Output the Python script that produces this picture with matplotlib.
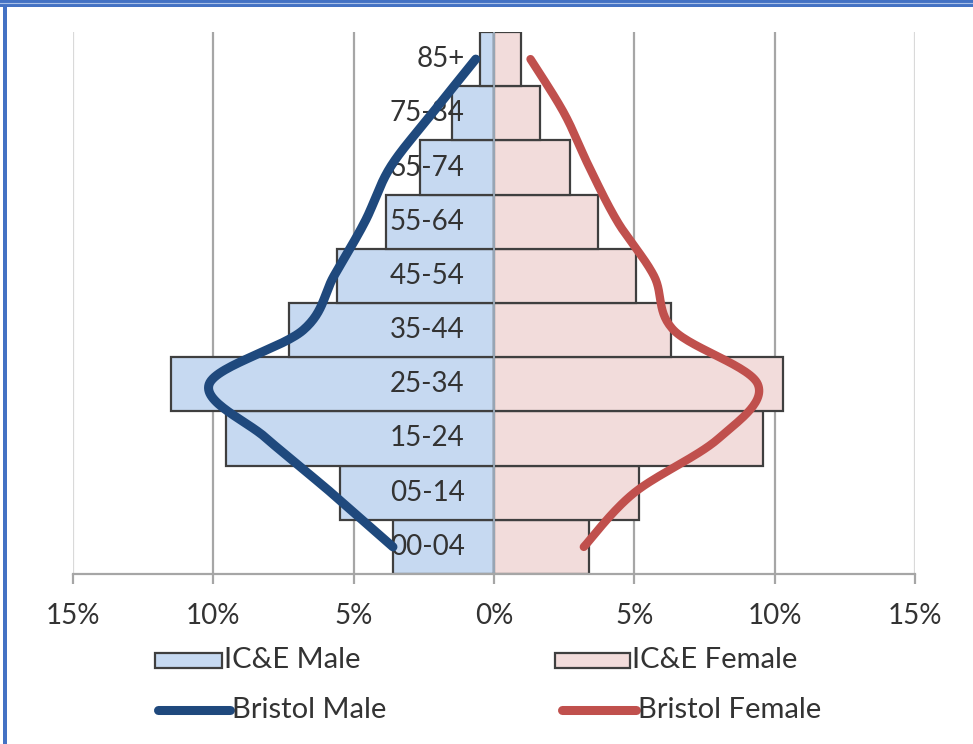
import numpy as np
import matplotlib
matplotlib.use("Agg")
import matplotlib.pyplot as plt
from matplotlib.patches import Rectangle
from matplotlib.lines import Line2D

# Age bands, youngest first
categories = ["00-04", "05-14", "15-24", "25-34", "35-44",
              "45-54", "55-64", "65-74", "75-84", "85+"]

# Share of population (%) in each age band
ice_male = [3.6, 5.5, 9.55, 11.5, 7.3, 5.6, 3.85, 2.65, 1.5, 0.5]
ice_female = [3.4, 5.15, 9.6, 10.3, 6.3, 5.05, 3.7, 2.7, 1.65, 0.95]
bristol_male = [3.6, 5.8, 8.1, 10.15, 6.8, 5.7, 4.6, 3.7, 2.2, 0.65]
bristol_female = [3.2, 5.0, 8.0, 9.4, 6.4, 5.7, 4.4, 3.4, 2.5, 1.3]

tick_values = [-15, -10, -5, 0, 5, 10, 15]
tick_labels = ["15%", "10%", "5%", "0%", "5%", "10%", "15%"]

W, H = 973, 744
FONT = "Lato"
MALE_FILL = "#c6d9f1"
FEMALE_FILL = "#f2dcdb"
EDGE = "#3f3f3f"
MALE_LINE = "#1f497d"
FEMALE_LINE = "#c0504d"
TEXT = "#333333"


def smooth(xs, ys, sx, sy, n=30):
    """Catmull-Rom smoothing (as used by spreadsheet smoothed lines),
    computed in a space scaled to screen proportions."""
    p = np.column_stack([np.asarray(xs) * sx, np.asarray(ys) * sy])
    p = np.vstack([p[0], p, p[-1]])
    out = []
    for i in range(1, len(p) - 2):
        p0, p1, p2, p3 = p[i - 1], p[i], p[i + 1], p[i + 2]
        t = np.linspace(0, 1, n, endpoint=(i == len(p) - 3))[:, None]
        seg = 0.5 * ((2 * p1) + (-p0 + p2) * t +
                     (2 * p0 - 5 * p1 + 4 * p2 - p3) * t ** 2 +
                     (-p0 + 3 * p1 - 3 * p2 + p3) * t ** 3)
        out.append(seg)
    out = np.vstack(out)
    return out[:, 0] / sx, out[:, 1] / sy


fig = plt.figure(figsize=(W / 100, H / 100), dpi=100)
fig.patch.set_facecolor("white")

left, right, top, bottom = 73, 915, 32, 574
ax = fig.add_axes([left / W, 1 - bottom / H, (right - left) / W, (bottom - top) / H])
ax.set_xlim(-15, 15)
ax.set_ylim(-0.5, len(categories) - 0.5)

y = np.arange(len(categories))

# vertical gridlines
for v in tick_values:
    col = "#d9d9d9" if abs(v) == 15 else "#a6a6a6"
    ax.axvline(v, color=col, lw=1.6, zorder=0.5)

ax.barh(y, [-v for v in ice_male], height=1.0, color=MALE_FILL,
        edgecolor=EDGE, linewidth=1.6, zorder=2)
ax.barh(y, ice_female, height=1.0, color=FEMALE_FILL,
        edgecolor=EDGE, linewidth=1.6, zorder=2)
ax.axvline(0, color="#9aa8b8", lw=1.4, zorder=2.5)

for yi, lab in zip(y, categories):
    ax.text(-1.05, yi, lab, ha="right", va="center", fontsize=20,
            family=FONT, color=TEXT, zorder=3)

sx = (right - left) / 30.0
sy = (bottom - top) / len(categories)
mx, my = smooth([-v for v in bristol_male], y, sx, sy)
fx, fy = smooth(bristol_female, y, sx, sy)
ax.plot(mx, my, color=MALE_LINE, lw=6.5, solid_capstyle="round",
        solid_joinstyle="round", zorder=4)
ax.plot(fx, fy, color=FEMALE_LINE, lw=6.0, solid_capstyle="round",
        solid_joinstyle="round", zorder=4)

for s in ["left", "right", "top"]:
    ax.spines[s].set_visible(False)
ax.spines["bottom"].set_color("#a6a6a6")
ax.spines["bottom"].set_linewidth(1.6)
ax.set_yticks([])
ax.set_xticks(tick_values)
ax.set_xticklabels(tick_labels, family=FONT, fontsize=20, color=TEXT)
ax.tick_params(axis="x", length=7, width=1.6, color="#a6a6a6", pad=14)


def fx_(px):
    return px / W


def fy_(py):
    return 1 - py / H


# legend
for x0, x1, fill, label in [(155, 222, MALE_FILL, "IC&E Male"),
                            (555, 630, FEMALE_FILL, "IC&E Female")]:
    fig.add_artist(Rectangle((fx_(x0), fy_(668)), fx_(x1 - x0), (668 - 653) / H,
                             transform=fig.transFigure, facecolor=fill,
                             edgecolor=EDGE, linewidth=1.6))
    fig.text(fx_(x1 + 2), fy_(660), label, ha="left", va="center",
             fontsize=21, family=FONT, color=TEXT)

for x0, x1, col, label in [(158, 230, MALE_LINE, "Bristol Male"),
                           (562, 636, FEMALE_LINE, "Bristol Female")]:
    fig.add_artist(Line2D([fx_(x0), fx_(x1)], [fy_(710), fy_(710)],
                          transform=fig.transFigure, color=col, lw=6.5,
                          solid_capstyle="round"))
    fig.text(fx_(x1 + 2), fy_(710), label, ha="left", va="center",
             fontsize=21, family=FONT, color=TEXT)

# frame
fig.add_artist(Rectangle((0, fy_(7)), 1, 7 / H, transform=fig.transFigure,
                         facecolor="#4472c4", edgecolor="none"))
fig.add_artist(Line2D([0, 1], [fy_(2.5), fy_(2.5)], transform=fig.transFigure,
                      color="#a9c0e8", lw=0.8))
fig.add_artist(Rectangle((fx_(3), 0), 4 / W, 1, transform=fig.transFigure,
                         facecolor="#4472c4", edgecolor="none"))

fig.savefig("out.png", dpi=100)
